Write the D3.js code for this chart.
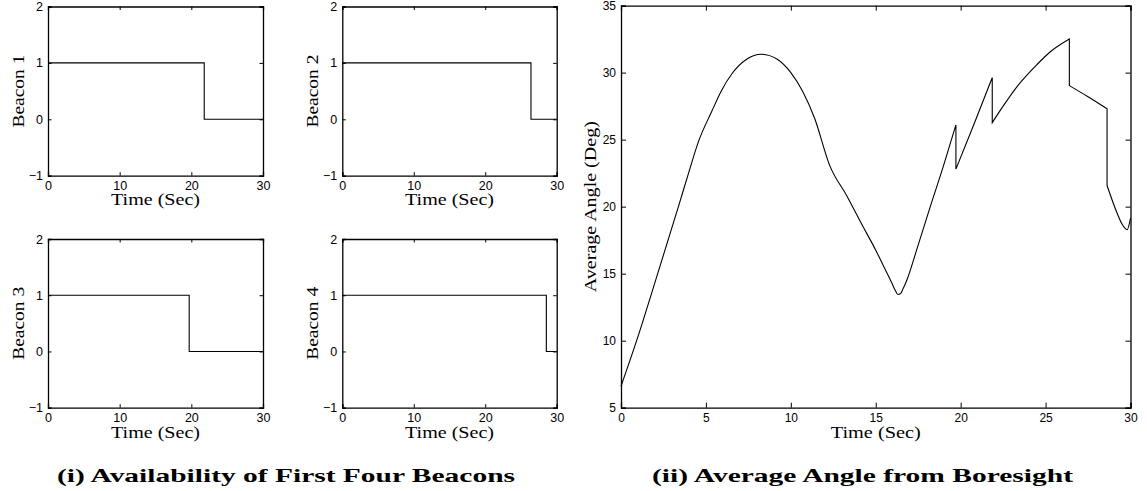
<!DOCTYPE html>
<html>
<head>
<meta charset="utf-8">
<script src="https://cdn.jsdelivr.net/npm/d3@7"></script>
<style>
  html, body { margin: 0; padding: 0; background: #fff; }
  svg { display: block; }
  .tick-label { font-family: "Liberation Sans", Arial, sans-serif; fill: #000; }
  .axis-title { font-family: "Liberation Serif", "Times New Roman", serif; fill: #000; }
  .caption { font-family: "Liberation Serif", "Times New Roman", serif; font-weight: bold; fill: #000; }
</style>
</head>
<body>
<svg id="chart" width="1147" height="491"></svg>
<script>
// ---------- data ----------
const beaconNames = ["Beacon 1", "Beacon 2", "Beacon 3", "Beacon 4"];
const beacon1Time = [0, 21.8, 21.8, 30];
const beacon1Value = [1, 1, 0, 0];
const beacon2Time = [0, 26.4, 26.4, 30];
const beacon2Value = [1, 1, 0, 0];
const beacon3Time = [0, 19.7, 19.7, 30];
const beacon3Value = [1, 1, 0, 0];
const beacon4Time = [0, 28.55, 28.55, 30];
const beacon4Value = [1, 1, 0, 0];
const beaconXTicks = [0, 10, 20, 30];
const beaconYTicks = [-1, 0, 1, 2];

// average angle (deg) vs time (sec); repeated times are the jumps
const angleTime = [0, 0.92, 2.16, 3.38, 4.0, 4.56, 5.34, 5.89, 6.55, 7.4, 8.25, 9.2, 10.0, 10.7, 11.4, 12.28,
  13.3, 14.28, 15.0, 15.66, 15.95, 16.15, 16.3, 16.45, 16.6, 16.84, 17.5, 18.21, 19.0, 19.72,
  19.72, 20.8, 21.86,
  21.86, 22.5, 23.32, 24.49, 25.28, 26.4,
  26.4, 27.5, 28.62,
  28.62, 29.21, 29.5, 29.8, 30];
const angleValue = [6.6, 10, 15, 20, 22.6, 24.85, 27.1, 28.6, 29.95, 31.0, 31.37, 31.0, 30.0, 28.6, 26.6, 23.1,
  20.8, 18.45, 16.75, 15.05, 14.3, 13.75, 13.45, 13.5, 13.85, 14.55, 17.15, 20.0, 23.1, 26.1,
  22.8, 26.2, 29.63,
  26.27, 27.5, 28.96, 30.6, 31.56, 32.51,
  29.03, 28.2, 27.3,
  21.58, 19.52, 18.7, 18.28, 19.15];
const angleXTicks = [0, 5, 10, 15, 20, 25, 30];
const angleYTicks = [5, 10, 15, 20, 25, 30, 35];

const captions = ["(i) Availability of First Four Beacons", "(ii) Average Angle from Boresight"];

// ---------- drawing ----------
const svg = d3.select("#chart");
const fmt = d => (d < 0 ? "\u2212" + Math.abs(d) : String(d));

function drawPanel(cfg) {
  const { x0, x1, y0, y1, xDomain, yDomain, xTicks, yTicks, tickLen, tickFont, xLabelGap,
          yLabel, yLabelX, xLabelY, labelFont, xLabelLen, yLabelLen, segments } = cfg;
  const x = d3.scaleLinear().domain(xDomain).range([x0, x1]);
  const y = d3.scaleLinear().domain(yDomain).range([y1, y0]);
  const g = svg.append("g");

  // data line
  const line = d3.line().x(d => x(d[0])).y(d => y(d[1]));
  let dStr = "";
  segments.forEach((seg, i) => {
    const gen = seg.smooth ? line.curve(d3.curveMonotoneX) : line.curve(d3.curveLinear);
    let s = gen(seg.pts);
    if (i > 0) s = s.replace(/^M/, "L");
    dStr += s;
  });
  g.append("path").attr("d", dStr).attr("fill", "none").attr("stroke", "#000")
    .attr("stroke-width", 1.1).attr("stroke-linejoin", "miter");

  // axes (bottom/left with labels, top/right mirrored), ticks inside
  const axB = d3.axisBottom(x).tickValues(xTicks).tickSize(-tickLen).tickFormat(fmt).tickPadding(xLabelGap);
  const axT = d3.axisTop(x).tickValues(xTicks).tickSize(-tickLen).tickFormat("");
  const axL = d3.axisLeft(y).tickValues(yTicks).tickSize(-tickLen).tickFormat(fmt).tickPadding(5);
  const axR = d3.axisRight(y).tickValues(yTicks).tickSize(-tickLen).tickFormat("");
  const style = sel => {
    sel.selectAll("path.domain").attr("stroke", "#000").attr("stroke-width", 1.3);
    sel.selectAll(".tick line").attr("stroke", "#000").attr("stroke-width", 1);
    sel.selectAll(".tick text").attr("class", "tick-label").style("font-size", tickFont + "px")
      .attr("font-family", null);
  };
  g.append("g").attr("transform", `translate(0,${y1})`).call(axB).call(style);
  g.append("g").attr("transform", `translate(0,${y0})`).call(axT).call(style);
  g.append("g").attr("transform", `translate(${x0},0)`).call(axL).call(style);
  g.append("g").attr("transform", `translate(${x1},0)`).call(axR).call(style);
  g.selectAll(".tick text").attr("fill", "#000");

  // titles
  g.append("text").attr("class", "axis-title").attr("x", (x0 + x1) / 2).attr("y", xLabelY)
    .attr("text-anchor", "middle").style("font-size", labelFont + "px")
    .attr("textLength", xLabelLen).attr("lengthAdjust", "spacingAndGlyphs").text("Time (Sec)");
  g.append("text").attr("class", "axis-title")
    .attr("transform", `translate(${yLabelX},${(y0 + y1) / 2}) rotate(-90)`)
    .attr("text-anchor", "middle").style("font-size", labelFont + 1 + "px")
    .attr("textLength", yLabelLen).attr("lengthAdjust", "spacingAndGlyphs").text(yLabel);
}

function zipPts(t, v) { return t.map((d, i) => [d, v[i]]); }

// split angle series into segments at repeated times (jumps)
function splitSegments(t, v) {
  const segs = [];
  let cur = [];
  t.forEach((d, i) => {
    if (i > 0 && d === t[i - 1]) { segs.push(cur); cur = []; }
    cur.push([d, v[i]]);
  });
  segs.push(cur);
  return segs.map(p => ({ pts: p, smooth: true }));
}

const beaconData = [
  zipPts(beacon1Time, beacon1Value),
  zipPts(beacon2Time, beacon2Value),
  zipPts(beacon3Time, beacon3Value),
  zipPts(beacon4Time, beacon4Value)
];
const smallBoxes = [
  { x0: 48, x1: 263, y0: 6.5, y1: 175.7, yLabelX: 24, xLabelY: 205 },
  { x0: 342.3, x1: 556.7, y0: 6.5, y1: 175.7, yLabelX: 317.5, xLabelY: 205 },
  { x0: 48, x1: 263, y0: 239, y1: 407.7, yLabelX: 24, xLabelY: 438 },
  { x0: 342.3, x1: 556.7, y0: 239, y1: 407.7, yLabelX: 317.5, xLabelY: 438 }
];
smallBoxes.forEach((b, i) => {
  drawPanel(Object.assign({}, b, {
    xDomain: [0, 30], yDomain: [-1, 2], xTicks: beaconXTicks, yTicks: beaconYTicks,
    tickLen: 3.5, tickFont: 12.5, xLabelGap: 5, yLabel: beaconNames[i], labelFont: 16,
    xLabelLen: 89, yLabelLen: 73,
    segments: [{ pts: beaconData[i], smooth: false }]
  }));
});

drawPanel({
  x0: 621, x1: 1130.5, y0: 5.6, y1: 407.7, xDomain: [0, 30], yDomain: [5, 35],
  xTicks: angleXTicks, yTicks: angleYTicks, tickLen: 5, tickFont: 12, xLabelGap: 5.5,
  yLabel: "Average Angle (Deg)", yLabelX: 596, xLabelY: 438, labelFont: 16,
  xLabelLen: 90, yLabelLen: 171,
  segments: splitSegments(angleTime, angleValue)
});

svg.append("text").attr("class", "caption").attr("x", 286).attr("y", 482)
  .attr("text-anchor", "middle").style("font-size", "19px")
  .attr("textLength", 458).attr("lengthAdjust", "spacingAndGlyphs").text(captions[0]);
svg.append("text").attr("class", "caption").attr("x", 862.5).attr("y", 482)
  .attr("text-anchor", "middle").style("font-size", "19px")
  .attr("textLength", 421).attr("lengthAdjust", "spacingAndGlyphs").text(captions[1]);
</script>
</body>
</html>
